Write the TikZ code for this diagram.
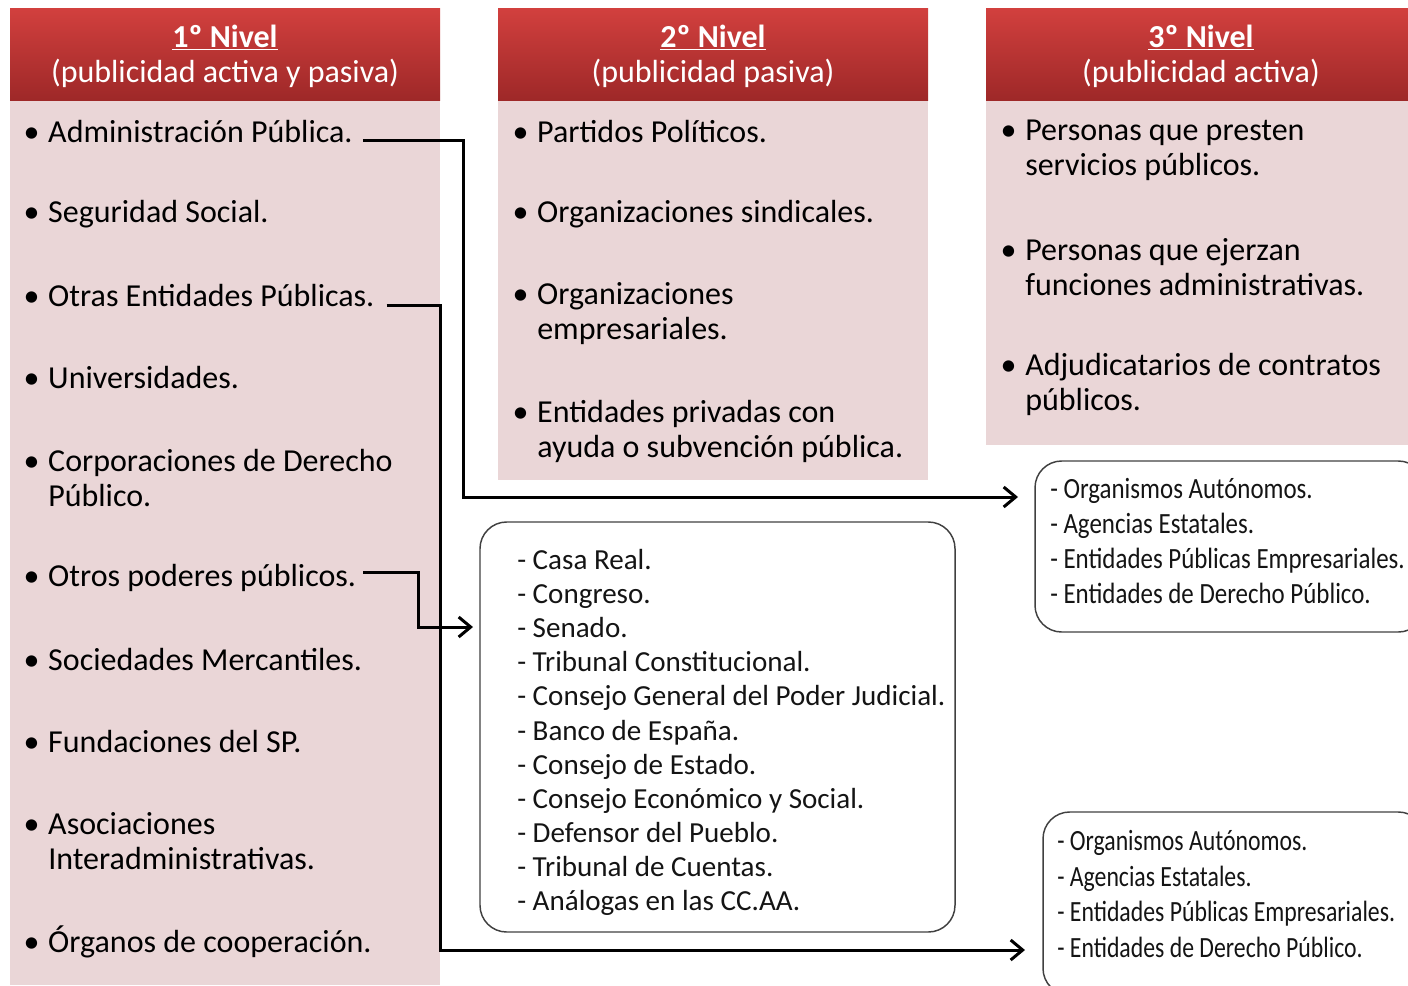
\documentclass[tikz,border=0pt]{standalone}
\usepackage{fontspec}
\setmainfont{Carlito}
\newfontfamily\narrowfont[FakeStretch=0.85]{Carlito}
\newfontfamily\narrowerfont[FakeStretch=0.81]{Carlito}
\usetikzlibrary{arrows.meta}

\definecolor{hdtop}{RGB}{210,64,62}
\definecolor{hdbot}{RGB}{158,40,40}
\definecolor{bodypink}{RGB}{234,214,215}
\definecolor{boxtext}{RGB}{20,20,20}

\begin{document}
\begin{tikzpicture}[x=0.75pt, y=-0.75pt,
    hdshade/.style={top color=hdtop, bottom color=hdbot, draw=none},
    hdr/.style={inner sep=0, text=white, align=center,
        font=\fontsize{24}{26.25}\selectfont},
    item/.style={anchor=west, inner sep=0, align=left,
        font=\fontsize{24}{26.25}\selectfont},
    roundbox/.style={draw=black!75, line width=1.1pt, rounded corners=20pt},
    boxlist/.style={anchor=west, inner sep=0, align=left, text=boxtext},
    conn/.style={line width=2.25pt, -{Straight Barb[length=9pt,width=15pt]}}]
    \useasboundingbox (0,0) rectangle (1408,985);
    \clip (0,0) rectangle (1408,985);

    % column bodies
    \fill[bodypink] (10,100) rectangle (440,985);
    \fill[bodypink] (498,100) rectangle (928,480);
    \fill[bodypink] (986,100) rectangle (1416,445);

    % headers
    \shade[hdshade] (10,8) rectangle (440,100);
    \shade[hdshade] (498,8) rectangle (928,100);
    \shade[hdshade] (986,8) rectangle (1416,100);
    \node[hdr] (h1) at (225,56) {\underline{\textbf{1º Nivel}}\\(publicidad activa y pasiva)};
    \node[hdr] (h2) at (713,56) {\underline{\textbf{2º Nivel}}\\(publicidad pasiva)};
    \node[hdr] (h3) at (1201,56) {\underline{\textbf{3º Nivel}}\\(publicidad activa)};

    % 1º nivel
    \node[item] (adm) at (48,132) {\llap{\textbullet\hspace{6.5pt}}Administración Pública.};
    \node[item] (seg) at (48,214) {\llap{\textbullet\hspace{6.5pt}}Seguridad Social.};
    \node[item] (otr) at (48,296) {\llap{\textbullet\hspace{6.5pt}}Otras Entidades Públicas.};
    \node[item] (uni) at (48,378) {\llap{\textbullet\hspace{6.5pt}}Universidades.};
    \node[item] (cor) at (48,478) {\llap{\textbullet\hspace{6.5pt}}Corporaciones de Derecho\\Público.};
    \node[item] (pod) at (48,578) {\llap{\textbullet\hspace{6.5pt}}Otros poderes públicos.};
    \node[item] (soc) at (48,660) {\llap{\textbullet\hspace{6.5pt}}Sociedades Mercantiles.};
    \node[item] (fun) at (48,742) {\llap{\textbullet\hspace{6.5pt}}Fundaciones del SP.};
    \node[item] (aso) at (48,841) {\llap{\textbullet\hspace{6.5pt}}Asociaciones\\Interadministrativas.};
    \node[item] (org) at (48,942) {\llap{\textbullet\hspace{6.5pt}}Órganos de cooperación.};

    % 2º nivel
    \node[item] (par) at (537,132) {\llap{\textbullet\hspace{6.5pt}}Partidos Políticos.};
    \node[item] (sin) at (537,214) {\llap{\textbullet\hspace{6.5pt}}Organizaciones sindicales.};
    \node[item] (emp) at (537,314) {\llap{\textbullet\hspace{6.5pt}}Organizaciones\\empresariales.};
    \node[item] (pri) at (537,431) {\llap{\textbullet\hspace{6.5pt}}Entidades privadas con\\ayuda o subvención pública.};

    % 3º nivel
    \node[item] (ser) at (1025,150) {\llap{\textbullet\hspace{6.5pt}}Personas que presten\\servicios públicos.};
    \node[item] (fad) at (1025,267) {\llap{\textbullet\hspace{6.5pt}}Personas que ejerzan\\funciones administrativas.};
    \node[item] (adj) at (1025,384) {\llap{\textbullet\hspace{6.5pt}}Adjudicatarios de contratos\\públicos.};

    % listas
    \draw[roundbox] (480,522) rectangle (955,932);
    \node[boxlist, font=\fontsize{21.8}{25.6}\selectfont] (alt) at (517,732.5) {- Casa Real.\\- Congreso.\\- Senado.\\- Tribunal Constitucional.\\- Consejo General del Poder Judicial.\\- Banco de España.\\- Consejo de Estado.\\- Consejo Económico y Social.\\- Defensor del Pueblo.\\- Tribunal de Cuentas.\\- Análogas en las CC.AA.};

    \draw[roundbox] (1035,461) rectangle (1425,632);
    \node[boxlist, font=\narrowfont\fontsize{22}{26.1}\selectfont] (aut1) at (1050,541) {- Organismos Autónomos.\\- Agencias Estatales.\\- Entidades Públicas Empresariales.\\- Entidades de Derecho Público.};

    \draw[roundbox] (1043,812) rectangle (1425,995);
    \node[boxlist, font=\narrowerfont\fontsize{22}{26.6}\selectfont] (aut2) at (1057,894) {- Organismos Autónomos.\\- Agencias Estatales.\\- Entidades Públicas Empresariales.\\- Entidades de Derecho Público.};

    % flechas
    \coordinate (t1) at (1018,497);
    \coordinate (t2) at (1025,950);
    \coordinate (t3) at (473,627);
    \draw[conn] (adm.east) ++(10,8) -- (463,140) |- (t1);
    \draw[conn] (otr.east) ++(12,9) -- (440,305) |- (t2);
    \draw[conn] (pod.east) ++(7,-6) -- (418,572) |- (t3);
\end{tikzpicture}
\end{document}
